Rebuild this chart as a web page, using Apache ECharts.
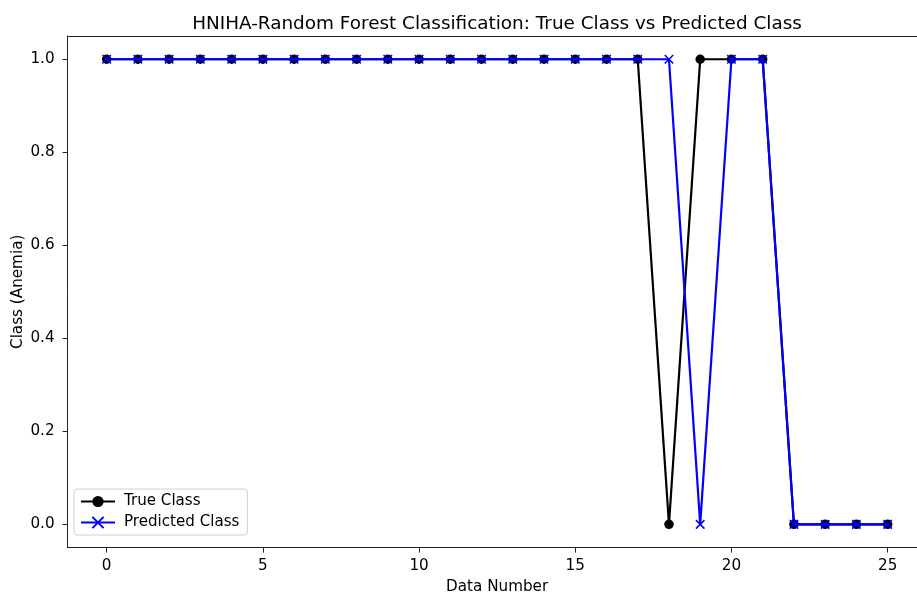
<!DOCTYPE html>
<html>
<head>
<meta charset="utf-8">
<script src="https://cdn.jsdelivr.net/npm/echarts@6/dist/echarts.min.js"></script>
<style>
  html, body { margin: 0; padding: 0; background: #fff; overflow: hidden; width: 917px; height: 597px; }
  #chart { width: 940px; height: 597px; }
</style>
</head>
<body>
<div id="chart"></div>
<script>
// Sample indices and class labels (1 = anemia, 0 = no anemia)
const dataNumbers = [0,1,2,3,4,5,6,7,8,9,10,11,12,13,14,15,16,17,18,19,20,21,22,23,24,25];
const trueClass =      [1,1,1,1,1,1,1,1,1,1,1,1,1,1,1,1,1,1,0,1,1,1,0,0,0,0];
const predictedClass = [1,1,1,1,1,1,1,1,1,1,1,1,1,1,1,1,1,1,1,0,1,1,0,0,0,0];
const xTicks = [0,5,10,15,20,25];
const yTicks = [0,0.2,0.4,0.6,0.8,1.0];

const FONT = 'DejaVu Sans';
const LABEL_SIZE = 15.2;
const chart = echarts.init(document.getElementById('chart'), null, { renderer: 'canvas' });

const crossPath = 'path://M0,0L10,10M10,0L0,10';
const spine = { color: '#222', width: 1 };

chart.setOption({
  animation: false,
  backgroundColor: '#fff',
  title: {
    text: 'HNIHA-Random Forest Classification: True Class vs Predicted Class',
    left: 492, top: 9, textAlign: 'center',
    textStyle: { fontFamily: FONT, fontSize: 18.4, fontWeight: 'normal', color: '#000', lineHeight: 20 }
  },
  grid: {
    left: 67.6, top: 36, right: 13.3, bottom: 49.4,
    outerBoundsMode: 'none', containLabel: false,
    show: false
  },
  legend: {
    left: 74, top: 489, orient: 'vertical',
    itemWidth: 34, itemHeight: 14, itemGap: 6,
    padding: [5, 8, 5, 6],
    borderColor: '#d0d0d0', borderWidth: 1, borderRadius: 3, backgroundColor: 'rgba(255,255,255,0.8)',
    textStyle: { fontFamily: FONT, fontSize: 15.1, color: '#000', padding: [0, 0, 0, 4] },
    data: ['True Class', 'Predicted Class']
  },
  xAxis: [
    {
      type: 'value', min: -1.25, max: 26.25,
      name: 'Data Number', nameLocation: 'middle', nameGap: 32, nameMoveOverlap: false,
      nameTextStyle: { fontFamily: FONT, fontSize: LABEL_SIZE, color: '#000' },
      axisLine: { show: true, onZero: false, lineStyle: spine },
      axisTick: { show: true, inside: false, length: 5, customValues: xTicks, lineStyle: { color: '#222' } },
      axisLabel: { customValues: xTicks, fontFamily: FONT, fontSize: LABEL_SIZE, color: '#000', margin: 11,
        formatter: v => String(v) },
      splitLine: { show: false }
    },
    {
      // top spine
      type: 'value', position: 'top', min: -1.25, max: 26.25,
      axisLine: { show: true, onZero: false, lineStyle: spine },
      axisTick: { show: false }, axisLabel: { show: false }, splitLine: { show: false }
    }
  ],
  yAxis: {
    type: 'value', min: -0.05, max: 1.05,
    name: 'Class (Anemia)', nameLocation: 'middle', nameGap: 42, nameRotate: 90, nameMoveOverlap: false,
    nameTextStyle: { fontFamily: FONT, fontSize: LABEL_SIZE, color: '#000' },
    axisLine: { show: true, onZero: false, lineStyle: spine },
    axisTick: { show: true, inside: false, length: 5, customValues: yTicks, lineStyle: { color: '#222' } },
    axisLabel: { customValues: yTicks, fontFamily: FONT, fontSize: LABEL_SIZE, color: '#000', margin: 13,
      formatter: v => v.toFixed(1) },
    splitLine: { show: false }
  },
  series: [
    {
      name: 'True Class', type: 'line',
      data: dataNumbers.map((x, i) => [x, trueClass[i]]),
      symbol: 'circle', symbolSize: 9.5,
      lineStyle: { color: '#000', width: 2.2 },
      itemStyle: { color: '#000', borderWidth: 0 },
      z: 2
    },
    {
      name: 'Predicted Class', type: 'line',
      data: dataNumbers.map((x, i) => [x, predictedClass[i]]),
      symbol: crossPath, symbolSize: 8.5,
      lineStyle: { color: '#0000ff', width: 2.2 },
      itemStyle: { color: '#0000ff', borderColor: '#0000ff', borderWidth: 1.5 },
      z: 3
    }
  ]
});
</script>
</body>
</html>
